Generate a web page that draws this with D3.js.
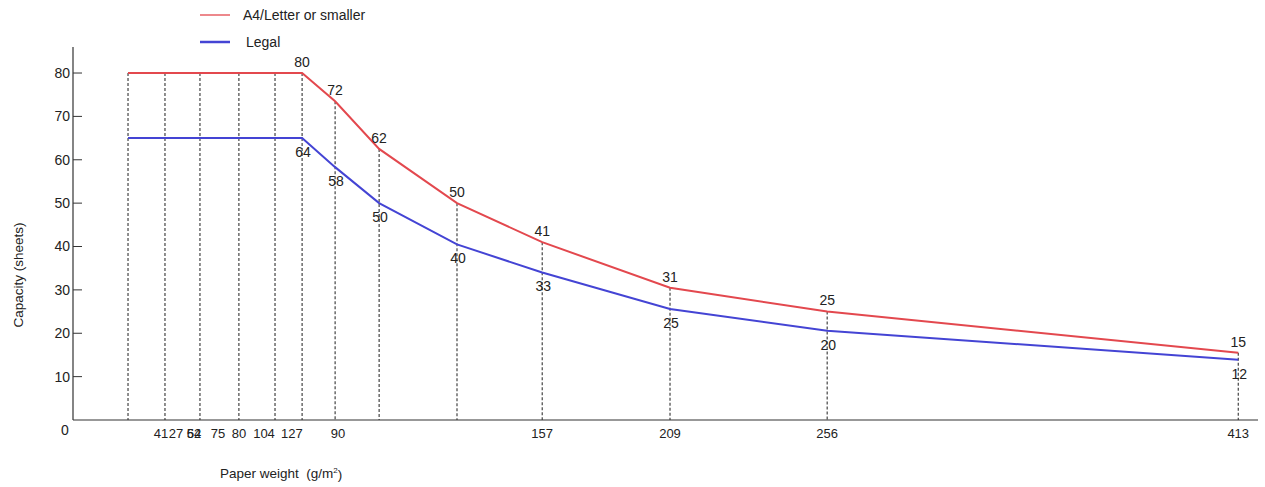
<!DOCTYPE html>
<html>
<head>
<meta charset="utf-8">
<script src="https://cdn.jsdelivr.net/npm/d3@7"></script>
<style>
  body { margin: 0; background: #fff; }
  text { font-family: "Liberation Sans", Arial, Helvetica, sans-serif; fill: #222; }
</style>
</head>
<body>
<div id="viz"></div>
<script>
// paper weight positions of the drawn points
const pointWeights = [19.5, 32.6, 45, 58.8, 71.6, 81.2, 92.9, 108.5, 136.1, 166.3, 211.6, 267.3, 413];
const a4Values = [80, 80, 80, 80, 80, 80, 73.5, 62.5, 50, 41, 30.5, 25, 15.5];
const legalValues = [65, 65, 65, 65, 65, 65, 58.3, 50, 40.5, 34, 25.6, 20.6, 13.9];
const a4Labels = ["", "", "", "", "", "80", "72", "62", "50", "41", "31", "25", "15"];
const legalLabels = ["", "", "", "", "", "64", "58", "50", "40", "33", "25", "20", "12"];
const xTickLabels = ["41", "27", "52", "64", "75", "80", "104", "127", "90", "157", "209", "256", "413"];
const xTickPositions = [31.2, 36.5, 42.9, 42.9, 51.4, 58.8, 67.7, 77.6, 93.9, 166.3, 211.6, 267.3, 413];
const yTicks = [10, 20, 30, 40, 50, 60, 70, 80];

const config = {
  width: 1265,
  height: 487,
  redColor: "#e3484e",
  blueColor: "#4444d4",
  labelSize: 14,
  tickSize: 13,
  titleSize: 13.5,
};

const svg = d3
  .select("#viz")
  .append("svg")
  .attr("width", config.width)
  .attr("height", config.height);

const x = d3.scaleLinear().domain([0, 420]).range([73, 1258]);
const y = d3.scaleLinear().domain([0, 86]).range([420, 47]);

// axes
svg.append("line")
  .attr("x1", x(0)).attr("x2", x(0))
  .attr("y1", y(0)).attr("y2", y(86))
  .attr("stroke", "#333").attr("stroke-width", 1.2);
svg.append("line")
  .attr("x1", x(0)).attr("x2", x(420))
  .attr("y1", y(0)).attr("y2", y(0))
  .attr("stroke", "#333").attr("stroke-width", 1.2);

yTicks.forEach((t) => {
  svg.append("line")
    .attr("x1", x(0)).attr("x2", x(0) + 9)
    .attr("y1", y(t)).attr("y2", y(t))
    .attr("stroke", "#333");
  svg.append("text")
    .attr("x", x(0) - 3)
    .attr("y", y(t))
    .attr("dy", "0.35em")
    .attr("text-anchor", "end")
    .attr("font-size", config.labelSize)
    .text(t);
});

svg.append("text")
  .attr("x", 65).attr("y", y(0) + 10)
  .attr("dy", "0.35em")
  .attr("text-anchor", "middle")
  .attr("font-size", config.labelSize)
  .text("0");

xTickLabels.forEach((label, i) => {
  svg.append("text")
    .attr("x", x(xTickPositions[i]))
    .attr("y", y(0) + 13)
    .attr("dy", "0.35em")
    .attr("text-anchor", "middle")
    .attr("font-size", config.tickSize)
    .text(label);
});

// dashed drop lines
pointWeights.forEach((w, i) => {
  svg.append("line")
    .attr("x1", x(w)).attr("x2", x(w))
    .attr("y1", y(a4Values[i])).attr("y2", y(0))
    .attr("stroke", "#333")
    .attr("stroke-width", 1.1)
    .attr("stroke-dasharray", "3,2");
});

// series lines
const line = (values) =>
  d3.line().x((d, i) => x(pointWeights[i])).y((d) => y(d))(values);

svg.append("path")
  .attr("d", line(a4Values))
  .attr("fill", "none")
  .attr("stroke", config.redColor)
  .attr("stroke-width", 2);

svg.append("path")
  .attr("d", line(legalValues))
  .attr("fill", "none")
  .attr("stroke", config.blueColor)
  .attr("stroke-width", 2);

// point labels
a4Labels.forEach((label, i) => {
  if (!label) return;
  svg.append("text")
    .attr("x", x(pointWeights[i]))
    .attr("y", y(a4Values[i]) - 11)
    .attr("dy", "0.35em")
    .attr("text-anchor", "middle")
    .attr("font-size", config.labelSize)
    .text(label);
});

legalLabels.forEach((label, i) => {
  if (!label) return;
  svg.append("text")
    .attr("x", x(pointWeights[i]) + 1)
    .attr("y", y(legalValues[i]) + 14)
    .attr("dy", "0.35em")
    .attr("text-anchor", "middle")
    .attr("font-size", config.labelSize)
    .text(label);
});

// legend
const legend = [
  { name: "A4/Letter or smaller", color: config.redColor, width: 1.3, y: 15 },
  { name: "Legal", color: config.blueColor, width: 2.5, y: 42 },
];
legend.forEach((d) => {
  svg.append("line")
    .attr("x1", 200).attr("x2", 230)
    .attr("y1", d.y).attr("y2", d.y)
    .attr("stroke", d.color)
    .attr("stroke-width", d.width);
  svg.append("text")
    .attr("x", d.name === "Legal" ? 246 : 243)
    .attr("y", d.y)
    .attr("dy", "0.35em")
    .attr("font-size", 14)
    .text(d.name);
});

// axis titles
svg.append("text")
  .attr("transform", "translate(18,275) rotate(-90)")
  .attr("text-anchor", "middle")
  .attr("dy", "0.35em")
  .attr("font-size", config.titleSize)
  .text("Capacity (sheets)");

const xTitle = svg.append("text")
  .attr("x", 220)
  .attr("y", 473)
  .attr("dy", "0.35em")
  .style("white-space", "pre")
  .attr("font-size", config.titleSize);
xTitle.append("tspan").text("Paper weight  (g/m");
xTitle.append("tspan").attr("font-size", 8).attr("dy", "-0.6em").text("2");
xTitle.append("tspan").attr("dy", "0.45em").text(")");
</script>
</body>
</html>
